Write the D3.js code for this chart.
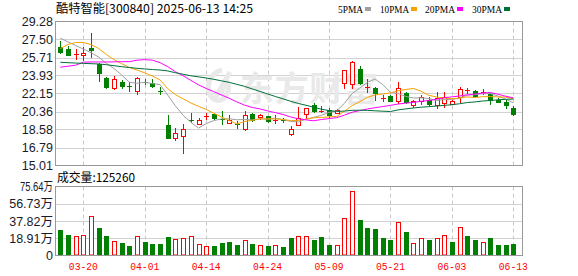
<!DOCTYPE html>
<html><head><meta charset="utf-8">
<script src="https://cdn.jsdelivr.net/npm/d3@7/dist/d3.min.js"></script>
<style>html,body{margin:0;padding:0;background:#fff;}svg{display:block;}</style>
</head><body>
<svg id="c" width="578" height="276"></svg>
<script>
const dates = ["03-17","03-18","03-19","03-20","03-21","03-24","03-25","03-26","03-27","03-28","03-31",
"04-01","04-02","04-03","04-07","04-08","04-09","04-10","04-11","04-14","04-15","04-16","04-17","04-18",
"04-21","04-22","04-23","04-24","04-25","04-28","04-29","04-30","05-06","05-07","05-08","05-09","05-12",
"05-13","05-14","05-15","05-16","05-19","05-20","05-21","05-22","05-23","05-26","05-27","05-28","05-29",
"05-30","06-03","06-04","06-05","06-06","06-09","06-10","06-11","06-12","06-13"];
const openP = [26.79,26.53,26.02,25.93,26.66,25.04,23.64,22.65,23.24,22.93,22.41,23.33,23.20,22.42,18.99,17.73,17.93,19.51,19.16,19.87,
20.09,19.58,19.26,19.09,18.59,20.16,19.82,19.89,19.47,19.56,18.16,19.06,20.16,20.98,20.36,20.55,20.22,23.14,23.04,24.54,
22.78,22.65,21.69,21.91,21.41,22.15,21.05,21.38,21.55,21.05,21.25,21.15,21.81,22.38,22.41,22.15,22.08,21.55,21.31,20.75];
const highP = [27.36,26.86,26.53,26.79,28.12,25.20,23.80,23.87,23.47,23.24,23.74,23.57,23.57,22.81,19.99,18.76,19.09,20.26,19.76,20.22,
20.12,20.42,19.99,19.42,20.42,20.20,20.16,19.95,20.06,19.70,18.89,20.81,20.75,21.21,20.88,20.75,20.60,24.47,25.37,24.87,
23.60,22.81,21.98,21.95,23.30,22.30,21.48,21.98,21.78,22.25,22.31,21.55,22.81,22.71,22.45,22.55,22.15,21.71,21.55,20.88];
const lowP = [26.13,25.95,25.56,25.46,25.79,23.37,22.65,22.55,22.71,22.41,22.08,23.04,22.81,22.08,17.73,17.50,16.23,19.32,19.16,19.66,
19.59,19.16,19.26,18.76,18.49,19.45,19.66,19.30,19.20,19.30,17.99,18.99,19.72,20.32,20.32,19.82,20.20,22.71,22.71,23.08,
22.31,21.48,21.38,21.38,21.21,21.21,20.81,21.15,20.98,20.75,20.81,21.15,21.31,22.15,21.81,22.08,21.15,21.31,20.75,19.99];
const closeP = [26.29,26.00,26.05,26.13,26.46,24.14,22.81,23.54,22.91,22.90,23.64,23.27,22.91,22.36,17.73,18.26,18.66,19.47,19.49,19.90,
19.76,19.54,19.49,19.03,20.06,19.49,20.06,19.39,19.52,19.40,18.59,19.72,20.75,20.42,20.40,20.06,20.49,24.47,25.24,23.20,
22.83,22.15,21.73,21.41,22.65,21.31,21.38,21.81,21.08,21.65,21.81,21.38,22.55,22.50,21.91,22.25,21.48,21.35,20.98,20.09];
const volume = [27.7,22.1,21.8,22.9,42.8,29.9,21.0,16.2,13.3,10.0,21.8,14.4,12.2,12.2,19.9,18.5,19.6,21.8,12.9,10.7,
10.0,13.3,14.4,11.1,17.3,12.2,11.8,10.0,11.8,8.9,18.8,21.8,21.8,16.6,19.9,11.8,11.8,40.6,70.5,38.7,
30.6,28.8,18.8,16.6,36.2,25.5,14.0,19.6,16.6,19.6,22.9,14.4,31.7,21.0,16.6,15.1,18.8,11.8,11.8,12.526];
const ma5 = [27.63,27.26,26.90,26.55,26.19,25.76,25.12,24.62,23.97,23.26,23.16,23.25,23.13,23.02,21.98,20.91,19.98,19.30,18.72,19.16,
19.46,19.63,19.64,19.54,19.58,19.52,19.63,19.61,19.70,19.57,19.39,19.32,19.60,19.78,19.98,20.27,20.42,21.17,22.13,22.69,
23.25,23.58,23.03,22.26,22.15,21.85,21.70,21.71,21.65,21.45,21.55,21.55,21.69,21.98,22.03,22.12,22.14,21.90,21.59,21.23];
const ma10 = [26.60,27.00,27.20,27.20,27.00,26.60,26.00,25.50,25.10,24.72,24.46,24.19,23.87,23.49,22.62,22.03,21.62,21.21,20.87,20.57,
20.18,19.81,19.47,19.13,19.37,19.49,19.63,19.62,19.62,19.57,19.46,19.48,19.60,19.74,19.77,19.83,19.87,20.38,20.95,21.33,
21.76,22.00,22.10,22.20,22.42,22.55,22.64,22.37,21.96,21.80,21.70,21.62,21.70,21.81,21.74,21.83,21.84,21.80,21.79,21.63];
const ma20 = [24.75,24.85,24.95,25.25,25.27,25.27,25.27,25.28,25.30,25.30,25.45,25.50,25.45,25.20,24.80,24.30,23.90,23.45,23.00,22.65,
22.32,22.00,21.67,21.31,20.99,20.76,20.62,20.42,20.25,20.07,19.82,19.64,19.53,19.44,19.57,19.66,19.75,20.00,20.29,20.45,
20.61,20.74,20.85,20.97,21.10,21.19,21.26,21.38,21.45,21.57,21.73,21.81,21.90,22.01,22.08,22.19,22.24,22.08,21.87,21.72];
const ma30 = [25.24,25.20,25.16,25.13,25.10,25.07,25.00,24.90,24.80,24.72,24.64,24.58,24.52,24.47,24.38,24.20,24.05,23.90,23.80,23.68,
23.55,23.40,23.25,23.05,22.85,22.60,22.35,22.10,21.85,21.62,21.37,21.16,20.98,20.79,20.59,20.45,20.37,20.40,20.48,20.49,
20.47,20.43,20.39,20.36,20.52,20.62,20.71,20.79,20.84,20.90,20.97,21.03,21.13,21.25,21.31,21.40,21.45,21.52,21.57,21.59];
const priceTicks = [15.01,16.79,18.58,20.36,22.15,23.93,25.71,27.50,29.28];
const volTicks = [0,18.91,37.82,56.73,75.64];
const volTickLabels = ["0","18.91万","37.82万","56.73万","75.64万"];
const dateTicks = ["03-20","04-01","04-14","04-24","05-09","05-21","06-03","06-13"];
const maNames = ["5PMA","10PMA","20PMA","30PMA"];
const maColors = ["#a0a0a0","#f5a300","#ff00ff","#00703a"];
const titleText = "酷特智能[300840] 2025-06-13 14:25";
const volTitle = "成交量:125260";

const RED = "#ff0000", GREEN = "#008000";
const svg = d3.select("#c");
svg.append("rect").attr("width",578).attr("height",276).attr("fill","#fff");

const L = 55.5, R = 522.5;
const x = d3.scalePoint().domain(dates).range([60.3, 513.3]);
const y = d3.scaleLinear().domain([15.01, 29.28]).range([165.5, 21.5]);
const yv = d3.scaleLinear().domain([0, 75.64]).range([255.5, 186.5]);

// horizontal grid
svg.append("g").selectAll("line").data(priceTicks.slice(1,-1)).join("line")
  .attr("x1",L).attr("x2",R).attr("y1",d=>Math.round(y(d))+0.5).attr("y2",d=>Math.round(y(d))+0.5)
  .attr("stroke","#d2d2d2");
svg.append("g").selectAll("line").data(volTicks.slice(1,-1)).join("line")
  .attr("x1",L).attr("x2",R).attr("y1",d=>Math.round(yv(d))+0.5).attr("y2",d=>Math.round(yv(d))+0.5)
  .attr("stroke","#d2d2d2");
// vertical dashed grid
const vg = svg.append("g");
[[21.5,165.5],[186.5,255.5]].forEach(([a,b])=>{
  vg.append("g").selectAll("line").data(dateTicks).join("line")
    .attr("x1",d=>Math.round(x(d))+0.5).attr("x2",d=>Math.round(x(d))+0.5)
    .attr("y1",a).attr("y2",b).attr("stroke","#c8c8c8").attr("stroke-dasharray","4,3");
});

// watermark
const wm = svg.append("g").attr("fill","#e9e9e9");
wm.append("text").attr("x",240).attr("y",101).attr("font-family","Noto Sans CJK SC")
  .attr("font-size",34).attr("font-weight",700).attr("textLength",138).text("东方财富");
wm.append("path").attr("d","M222,70 C206,74 204,96 216,100 C226,103 232,88 226,80 L220,96 M230,72 L214,100")
  .attr("fill","none").attr("stroke","#e9e9e9").attr("stroke-width",5);

// candles
const idx = d3.range(dates.length);
const isUpCandle = i => closeP[i] > openP[i] || (closeP[i] === openP[i] && i > 0 && closeP[i] >= closeP[i-1]);
const cg = svg.append("g");
idx.forEach(i=>{
  const cx = Math.round(x(dates[i]));
  const up = isUpCandle(i);
  const col = up ? RED : GREEN;
  const yt = Math.round(y(Math.max(openP[i],closeP[i])));
  const yb = Math.round(y(Math.min(openP[i],closeP[i])));
  cg.append("line").attr("x1",cx+0.5).attr("x2",cx+0.5)
    .attr("y1",Math.round(y(highP[i]))).attr("y2",Math.round(y(lowP[i]))+1).attr("stroke",col);
  const h = yb - yt;
  if (h <= 1) {
    cg.append("rect").attr("x",cx-2).attr("y",yt).attr("width",5).attr("height",1).attr("fill",col);
  } else if (up) {
    cg.append("rect").attr("x",cx-1.5).attr("y",yt+0.5).attr("width",4).attr("height",h)
      .attr("fill","#fff").attr("stroke",col);
  } else {
    cg.append("rect").attr("x",cx-2).attr("y",yt).attr("width",5).attr("height",h+1).attr("fill",col);
  }
});

// MA lines
[ma5,ma10,ma20,ma30].forEach((arr,k)=>{
  const line = d3.line().x((d,i)=>x(dates[i])).y(d=>y(d));
  svg.append("path").attr("d",line(arr)).attr("fill","none")
    .attr("stroke",maColors[k]).attr("stroke-width",1);
});

// volume bars
const vb = svg.append("g");
idx.forEach(i=>{
  const cx = Math.round(x(dates[i]));
  const up = i > 0 ? closeP[i] >= closeP[i-1] : closeP[i] >= openP[i];
  const top = Math.round(yv(volume[i]));
  const base = 255;
  if (up) {
    vb.append("rect").attr("x",cx-1.5).attr("y",top+0.5).attr("width",4).attr("height",base-top-0.5)
      .attr("fill","#fff").attr("stroke",RED);
  } else {
    vb.append("rect").attr("x",cx-2).attr("y",top).attr("width",5).attr("height",base-top+1).attr("fill",GREEN);
  }
});

// frames
svg.append("rect").attr("x",L).attr("y",21.5).attr("width",R-L).attr("height",144)
  .attr("fill","none").attr("stroke","#999");
svg.append("rect").attr("x",L).attr("y",186.5).attr("width",R-L).attr("height",69)
  .attr("fill","none").attr("stroke","#999");

// y labels
svg.append("g").selectAll("text").data(priceTicks).join("text")
  .attr("x",53).attr("y",d=>y(d)+4.5).attr("text-anchor","end")
  .attr("font-family","Liberation Sans, Arial, sans-serif").attr("font-size",12.5).attr("fill","#1a1a2a")
  .text(d=>d.toFixed(2));
svg.append("g").selectAll("text").data(volTicks).join("text")
  .attr("x",53).attr("y",d=>yv(d)+4.5).attr("text-anchor","end")
  .attr("font-family","Liberation Sans, Noto Sans CJK SC, sans-serif").attr("font-size",12.5).attr("fill","#1a1a2a")
  .each(function(d,i){ if(i===volTicks.length-1) d3.select(this).attr("textLength",33).attr("lengthAdjust","spacingAndGlyphs"); })
  .text((d,i)=>volTickLabels[i]);

// x labels
svg.append("g").selectAll("text").data(dateTicks).join("text")
  .attr("x",d=>x(d)).attr("y",270).attr("text-anchor","middle")
  .attr("font-family","Liberation Mono, monospace").attr("font-size",11).attr("fill",RED)
  .attr("textLength",29).attr("lengthAdjust","spacingAndGlyphs")
  .text(d=>d);

// title
svg.append("text").attr("x",56).attr("y",13).attr("font-family","Noto Sans CJK SC, sans-serif")
  .attr("font-size",12).attr("fill","#000").attr("textLength",197).attr("lengthAdjust","spacingAndGlyphs")
  .text(titleText);
svg.append("text").attr("x",57).attr("y",181.5).attr("font-family","Noto Sans CJK SC, sans-serif")
  .attr("font-size",12).attr("fill","#000").attr("textLength",78).attr("lengthAdjust","spacingAndGlyphs")
  .text(volTitle);

// legend
const legX = [338,380,425,472], legW = [25,29,30,30];
maNames.forEach((n,k)=>{
  svg.append("text").attr("x",legX[k]).attr("y",12.5).attr("font-family","Liberation Serif, serif")
    .attr("font-size",11).attr("fill","#000").attr("textLength",legW[k]).attr("lengthAdjust","spacingAndGlyphs").text(n);
  svg.append("rect").attr("x",legX[k]+legW[k]+2).attr("y",7).attr("width",6).attr("height",4).attr("fill",maColors[k]);
});
</script>
</body></html>
